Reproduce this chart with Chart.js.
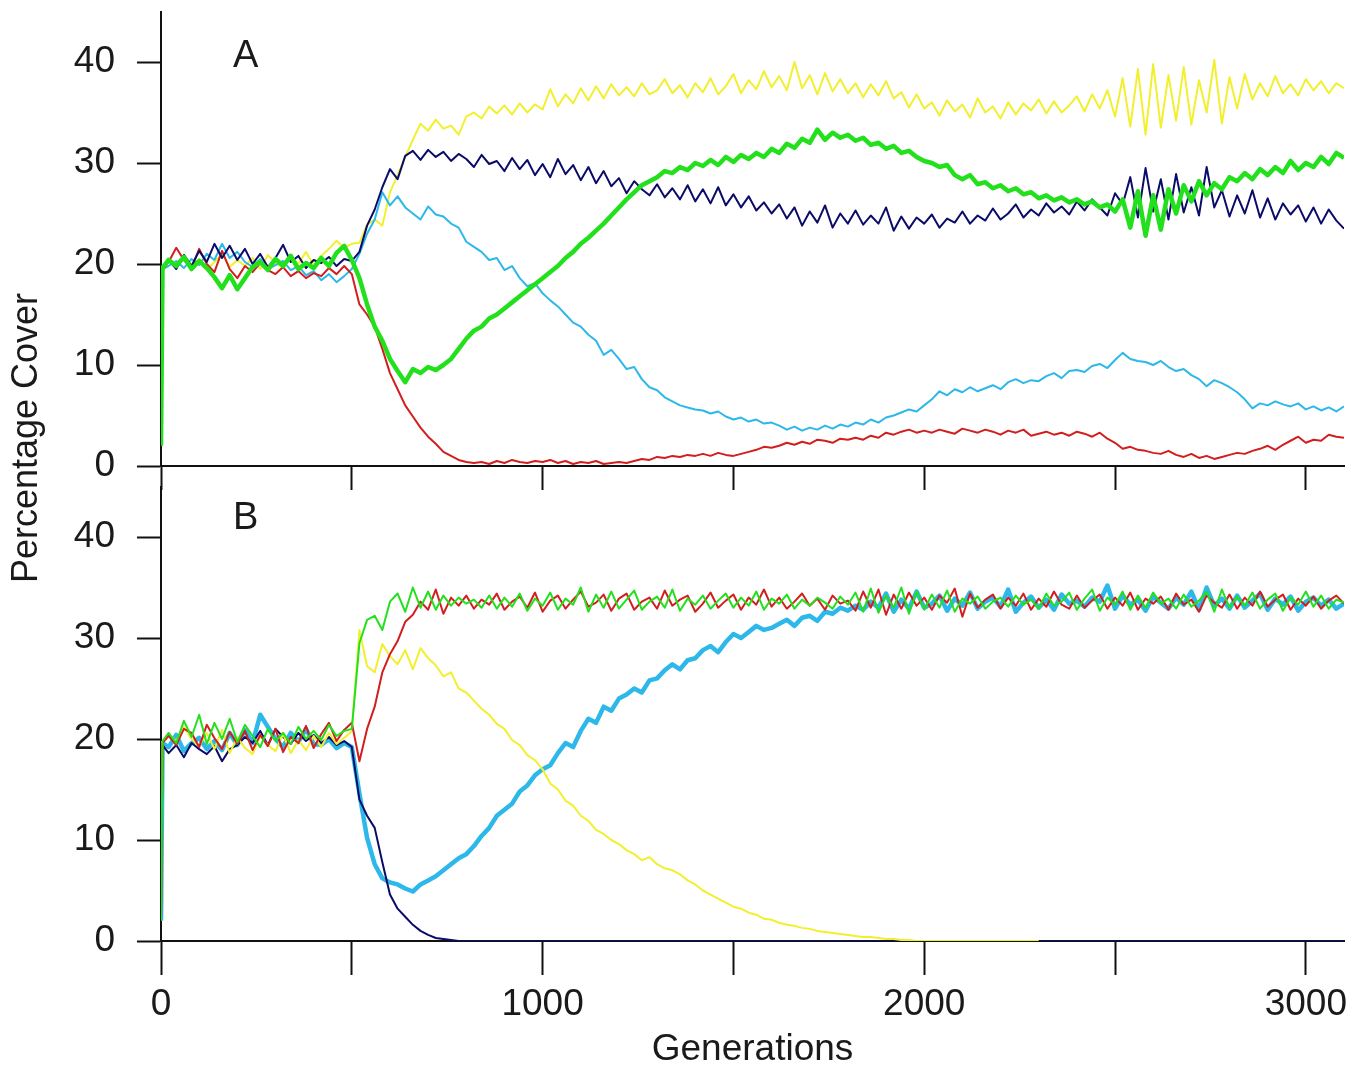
<!DOCTYPE html>
<html>
<head>
<meta charset="utf-8">
<title>Percentage Cover</title>
<script src="https://cdn.jsdelivr.net/npm/chart.js@4.4.1/dist/chart.umd.min.js"></script>
<style>
  html, body { margin: 0; padding: 0; background: #fff; }
  #wrap { position: relative; width: 1360px; height: 1068px; overflow: hidden; background: #fff;
          font-family: "Liberation Sans", Arial, sans-serif; color: #1a1a1a; }
  canvas { position: absolute; left: 0; }
  #chartA { top: 0; }
  #chartB { top: 470px; }
  .panel { position: absolute; left: 233px; font-size: 38px; line-height: 1; }
  #ytitle { position: absolute; left: -175px; top: 420px; width: 400px; height: 36px; line-height: 36px;
            font-size: 36px; text-align: center; transform: rotate(-90deg); white-space: nowrap; }
</style>
</head>
<body>
<div id="wrap">
  <canvas id="chartA" width="1360" height="500"></canvas>
  <canvas id="chartB" width="1360" height="598"></canvas>
  <div class="panel" style="top:35px">A</div>
  <div class="panel" style="top:497px">B</div>
  <div id="ytitle">Percentage Cover</div>
</div>
<script>
// x positions: a start point, then one sample every 20 generations
const generations = [0, 4];
for (let g = 20; g <= 3100; g += 20) generations.push(g);

const xTicks = [0, 500, 1000, 1500, 2000, 2500, 3000];
const xTickLabels = ["0", "", "1000", "", "2000", "", "3000"];
const yTicks = [0, 10, 20, 30, 40];

// ---- panel A ----
const yellowA = [2, 19.8,
  20.3, 19.6, 20.8, 19.9, 20.5, 19.4, 20.2, 21.0, 19.7, 20.4,
  19.8, 20.6, 19.5, 20.9, 20.1, 19.6, 20.7, 20.0, 21.2, 19.9,
  20.8, 21.5, 22.3, 21.6, 22.0, 22.1, 23.9, 24.4, 23.8, 27.1,
  28.8, 30.6, 32.3, 33.9, 33.2, 34.3, 33.4, 33.7, 32.8, 34.6,
  35.0, 34.4, 35.6, 34.9, 35.7, 34.8, 35.9, 35.0, 35.8, 35.3,
  37.3, 35.6, 36.8, 35.9, 37.4, 36.2, 37.6, 36.4, 37.8, 36.7,
  37.5, 36.6, 37.9, 36.8, 37.2, 38.3, 36.9, 37.7, 36.5, 37.9,
  37.0, 38.4, 36.8, 37.6, 38.8, 36.9, 38.2, 37.3, 39.1, 37.5,
  38.6, 37.2, 40.0, 37.4, 38.7, 36.8, 38.9, 37.1, 38.3, 36.9,
  37.9, 36.5, 37.8, 36.7, 38.1, 36.4, 37.0, 35.5, 36.8, 35.4,
  36.0, 34.7, 36.2, 35.1, 35.8, 34.5, 36.4, 35.0, 35.6, 34.4,
  36.0, 34.8, 35.9, 35.2, 36.3, 34.9, 36.1, 35.0, 35.7, 36.6,
  35.1, 36.8, 35.4, 37.2, 34.6, 38.4, 33.6, 39.3, 32.8, 39.8,
  33.5, 38.7, 34.2, 39.5, 33.8, 38.2, 35.0, 40.2, 33.9, 38.5,
  35.4, 38.8, 36.3, 37.9, 36.6, 38.6, 36.9, 37.8, 36.7, 38.3,
  37.2, 38.1, 36.9, 37.9, 37.4];

const navyA = [2, 19.6,
  20.4, 19.5, 20.9, 19.8, 21.3, 20.2, 22.0, 20.6, 21.8, 20.4,
  21.5, 20.0, 21.0, 19.7, 20.6, 21.9, 20.2, 20.8, 19.6, 20.4,
  20.1, 20.7, 19.8, 20.5, 20.3, 21.2, 23.8, 25.4, 27.6, 29.4,
  28.4, 30.7, 31.2, 30.3, 31.3, 30.6, 31.1, 30.2, 30.9, 30.4,
  29.6, 30.8, 29.9, 30.2, 29.2, 30.5, 29.4, 30.3, 28.8, 29.9,
  28.6, 30.4, 28.9, 29.8, 28.3, 29.6, 28.0, 29.2, 27.7, 28.5,
  27.0, 28.2, 27.4, 26.8, 27.9, 26.6, 27.5, 26.4, 27.8, 26.2,
  27.4, 26.0, 27.6, 25.8, 26.9, 25.6, 26.7, 25.3, 26.1, 25.0,
  25.9, 24.5, 25.6, 23.8, 25.2, 24.1, 25.8, 23.6, 25.0, 24.0,
  25.3, 23.9, 24.8, 24.0, 25.6, 23.3, 24.7, 23.5, 24.6, 24.0,
  24.9, 23.6, 24.5, 24.1, 25.2, 24.0, 24.8, 24.3, 25.5, 24.4,
  25.0, 25.9, 24.6, 25.4, 24.8, 26.0, 25.1, 25.7, 24.9, 26.2,
  25.3, 26.4, 25.6, 24.8, 27.0, 25.9, 28.6, 24.6, 29.5, 25.2,
  28.4, 24.4, 28.9, 25.1, 27.6, 24.8, 29.6, 25.6, 27.3, 24.7,
  26.8, 25.0, 27.3, 24.6, 26.5, 24.4, 26.0, 24.9, 25.8, 24.2,
  25.6, 24.0, 25.4, 24.3, 23.5];

const cyanA = [2, 19.5,
  19.8, 20.3, 19.6, 20.5, 19.9, 21.0, 20.4, 22.0, 20.6, 21.2,
  20.2, 19.7, 20.5, 19.5, 19.9, 20.3, 19.4, 19.8, 18.9, 19.3,
  18.4, 19.0, 18.2, 18.8, 19.5, 21.0, 23.0, 24.4, 27.1, 25.8,
  26.7, 25.6, 25.0, 24.4, 25.7, 24.9, 24.7, 24.0, 23.6, 22.2,
  21.7, 21.2, 20.4, 20.6, 19.4, 19.8, 18.6, 17.8, 18.1, 17.1,
  16.4, 15.8, 15.0, 14.2, 13.8, 13.0, 12.4, 11.0, 11.5, 10.6,
  9.6, 9.8, 8.6, 7.8, 7.5, 6.8, 6.4, 6.0, 5.8, 5.6,
  5.5, 5.2, 5.4, 4.9, 4.6, 4.8, 4.4, 4.6, 4.2, 4.3,
  4.0, 3.6, 3.9, 3.5, 3.8, 3.6, 4.0, 3.7, 4.1, 3.9,
  4.3, 4.1, 4.6, 4.3, 4.8, 5.0, 5.3, 5.6, 5.4, 6.0,
  6.6, 7.4, 7.0, 7.6, 7.3, 7.8, 7.4, 7.7, 8.0, 7.6,
  8.3, 8.6, 8.2, 8.5, 8.4, 8.9, 9.2, 8.7, 9.4, 9.5,
  9.3, 9.9, 10.1, 9.7, 10.5, 11.2, 10.6, 10.4, 10.3, 10.0,
  10.4, 9.8, 9.4, 9.6, 9.0, 8.6, 7.9, 8.5, 8.2, 7.8,
  7.3, 6.6, 5.7, 6.2, 6.0, 6.4, 6.1, 5.9, 6.2, 5.6,
  5.9, 5.5, 5.8, 5.4, 5.9];

const redA = [2, 19.4,
  20.2, 21.6, 20.4, 19.6, 21.5, 20.0, 19.2, 21.3, 19.5, 18.6,
  19.8, 19.2, 20.1, 19.4, 19.0, 19.7, 18.8, 19.3, 18.6, 19.1,
  18.8, 19.6, 19.0, 19.8, 19.0, 16.0, 15.0, 13.8, 11.6, 9.2,
  7.6, 6.0, 4.9, 3.8, 2.9, 2.2, 1.4, 1.0, 0.6, 0.4,
  0.3, 0.4, 0.2, 0.5, 0.3, 0.6, 0.4, 0.3, 0.5, 0.4,
  0.6, 0.3, 0.5, 0.2, 0.4, 0.3, 0.5, 0.2, 0.3, 0.4,
  0.3, 0.5, 0.7, 0.6, 0.9, 0.8, 1.0, 0.9, 1.1, 1.0,
  1.2, 1.0, 1.3, 1.1, 1.0, 1.2, 1.4, 1.6, 1.9, 1.8,
  2.0, 2.3, 2.1, 2.4, 2.2, 2.6, 2.5, 2.3, 2.7, 2.6,
  2.8, 2.6, 3.0, 2.8, 3.3, 3.1, 3.4, 3.6, 3.3, 3.5,
  3.3, 3.6, 3.4, 3.2, 3.7, 3.5, 3.3, 3.6, 3.4, 3.1,
  3.5, 3.3, 3.6, 3.0, 3.2, 3.4, 3.1, 3.3, 3.0, 3.4,
  3.2, 2.9, 3.3, 2.7, 2.3, 1.7, 1.9, 1.6, 1.5, 1.3,
  1.2, 1.5, 1.1, 0.9, 1.2, 0.8, 1.0, 0.7, 0.9, 1.1,
  1.3, 1.2, 1.5, 1.7, 2.0, 1.6, 2.1, 2.5, 2.9, 2.3,
  2.6, 2.5, 3.1, 2.9, 2.8];

const greenA = [2, 19.6,
  20.4, 19.8, 20.7, 19.5, 20.3, 19.6, 18.7, 17.6, 18.9, 17.5,
  18.6, 19.7, 20.2, 19.4, 20.5, 19.8, 20.8, 19.5, 20.1, 19.6,
  20.6, 19.8, 21.1, 21.8, 20.4, 18.6, 16.0, 13.8, 12.4, 10.6,
  9.4, 8.3, 9.6, 9.2, 9.8, 9.5, 10.0, 10.6, 11.6, 12.6,
  13.4, 13.8, 14.6, 15.0, 15.6, 16.2, 16.8, 17.4, 18.0, 18.6,
  19.2, 19.8, 20.6, 21.2, 22.0, 22.6, 23.3, 24.0, 24.8, 25.6,
  26.4, 27.1, 27.8, 28.2, 28.6, 29.2, 29.0, 29.6, 29.3, 30.0,
  29.7, 30.3, 29.8, 30.6, 30.1, 30.8, 30.4, 31.0, 30.6, 31.4,
  31.0, 31.9, 31.5, 32.4, 32.0, 33.3, 32.3, 33.0, 32.5, 32.8,
  32.2, 32.5, 31.8, 32.0, 31.4, 31.7, 31.0, 31.2, 30.6, 30.2,
  30.0, 29.6, 29.8, 28.8, 28.4, 28.8, 27.9, 28.1, 27.5, 27.8,
  27.2, 27.5, 26.9, 27.1, 26.5, 26.8, 26.3, 26.6, 26.1, 26.4,
  25.9, 26.2, 25.6, 25.9, 25.2, 26.4, 23.6, 27.2, 22.8, 26.8,
  23.4, 27.4, 25.0, 27.8, 26.2, 28.2, 26.8, 28.0, 27.4, 28.6,
  28.2, 29.0, 28.4, 29.4, 28.8, 29.6, 29.0, 30.2, 29.3, 30.0,
  29.6, 30.6, 29.9, 31.0, 30.5];

// ---- panel B ----
const greenB = [2, 19.8,
  20.6, 19.6, 21.8, 20.2, 22.4, 19.5, 21.6, 20.0, 22.0, 19.7,
  21.4, 20.3, 19.2, 21.0, 19.8, 20.6, 19.5, 21.2, 20.0, 20.8,
  19.9, 21.4, 20.3, 20.8, 21.0, 29.5, 31.8, 32.2, 30.8, 33.6,
  34.4, 32.6, 35.0, 33.0, 34.6, 32.8, 34.2, 33.2, 34.0, 33.4,
  33.8, 33.0, 34.2, 32.9, 34.0, 33.1, 34.4, 32.7, 33.9, 33.2,
  34.5, 32.8, 33.9, 33.3, 35.0, 32.6, 34.3, 33.0, 34.6, 32.9,
  33.8, 34.7, 32.8, 33.6, 34.1, 33.0, 34.8, 32.7, 33.9, 33.3,
  34.2, 32.9, 33.7, 34.4, 33.0, 34.0, 33.2, 34.6, 32.8, 33.9,
  33.4, 34.3, 32.9, 33.8, 33.2, 34.0, 33.5, 32.9, 34.1, 33.3,
  34.5, 32.6, 34.9, 32.5, 34.2, 33.0, 35.0, 32.4, 34.6, 32.8,
  34.3, 33.0, 34.7, 32.6, 33.9, 33.4, 34.1, 32.9, 33.6, 34.0,
  33.1, 34.2, 33.3, 33.8, 32.9, 34.4, 33.2, 33.6, 34.5, 32.8,
  33.9, 34.8, 32.7, 34.0, 33.3, 34.6, 32.8, 34.2, 33.0, 34.5,
  33.4, 33.9, 32.9, 34.3, 33.1, 33.7, 34.6, 32.6, 34.8, 33.0,
  34.1, 33.2, 34.5, 32.9, 33.8, 34.4, 32.7, 34.0, 33.3, 34.6,
  33.1, 34.2, 32.9, 33.8, 33.5];

const redB = [2, 19.6,
  20.3, 19.4, 21.0, 20.6, 19.2, 21.4, 20.1, 19.0, 20.7, 19.5,
  20.8, 18.9, 20.4, 19.3, 21.0, 18.7, 20.2, 19.6, 21.3, 19.1,
  20.5, 21.6, 19.8, 20.9, 21.6, 17.8, 21.0, 23.2, 26.6, 28.4,
  29.7, 31.6, 32.3, 33.6, 32.8, 34.8, 32.4, 34.0, 33.2, 34.2,
  32.9, 33.8, 33.3, 34.4, 32.8, 33.6, 34.1, 33.0, 34.5, 32.6,
  33.7, 34.2, 32.9, 33.8, 34.6, 33.1, 33.5, 34.3, 32.7, 33.9,
  34.4, 32.8, 33.6, 34.0, 32.9, 34.7, 33.2, 33.8, 34.2, 32.6,
  33.4, 34.5, 33.0, 33.7, 34.3, 32.8, 34.0, 33.3, 34.8, 33.1,
  34.0, 32.9, 33.6, 34.4, 33.2, 33.9, 32.8, 34.2, 33.4, 33.7,
  32.7, 34.6, 33.0, 34.8, 32.3, 34.3, 32.9, 34.5, 33.2, 34.0,
  32.8, 34.2, 33.5, 34.9, 32.1, 34.4, 33.0, 33.8, 34.3, 32.9,
  34.0, 33.2, 34.4, 32.8, 33.9, 33.1, 34.6, 33.3, 32.9, 34.2,
  33.0, 33.7, 34.3, 32.9, 34.0, 33.2, 34.5, 32.8, 33.9, 33.4,
  34.1, 32.8, 34.4, 33.3, 33.8, 32.6, 34.2, 33.5, 33.0, 34.3,
  32.9, 34.0, 33.2, 34.6, 33.1, 33.8, 34.3, 32.8, 33.9, 33.2,
  34.1, 32.9, 33.7, 34.2, 33.4];

const yellowB = [2, 19.7,
  20.4, 19.8, 21.2, 20.0, 19.3, 20.6, 19.0, 20.9, 18.6, 20.2,
  19.1, 18.5, 20.3, 19.4, 18.8, 20.5, 18.6, 19.9, 18.9, 20.3,
  19.2, 20.6, 19.5, 20.1, 20.8, 30.8, 27.2, 26.6, 29.4, 28.2,
  27.4, 28.8, 26.9, 29.0, 28.0, 27.3, 26.2, 26.6, 25.0, 24.6,
  23.8, 23.0, 22.4, 21.5, 21.0, 19.9, 19.4, 18.4, 17.9, 17.0,
  15.6, 15.0, 13.9, 13.4, 12.4, 11.9, 11.0, 10.6, 10.0, 9.6,
  9.0, 8.6, 8.0, 8.3, 7.6, 7.2, 7.0, 6.6, 6.0, 5.6,
  5.0, 4.6, 4.2, 3.8, 3.4, 3.2, 2.8, 2.6, 2.2, 2.1,
  1.8, 1.6, 1.5, 1.3, 1.2, 1.0, 0.9, 0.8, 0.7, 0.6,
  0.5, 0.4, 0.4, 0.3, 0.2, 0.2, 0.1, 0.1, 0, 0,
  0, 0, 0, 0, 0, 0, 0, 0, 0, 0,
  0, 0, 0, 0, 0, null, null, null, null, null,
  null, null, null, null, null, null, null, null, null, null,
  null, null, null, null, null, null, null, null, null, null,
  null, null, null, null, null, null, null, null, null, null,
  null, null, null, null, null];

const cyanB = [2, 19.6,
  19.2, 20.4, 18.8, 19.6, 20.1, 19.0, 19.8, 18.9, 20.6, 19.4,
  20.9, 19.6, 22.4, 21.2, 20.0, 19.2, 20.6, 19.7, 21.0, 19.5,
  19.4, 20.0, 19.1, 19.6, 19.2, 14.6, 10.2, 7.6, 6.2, 5.8,
  5.6, 5.2, 4.9, 5.6, 6.0, 6.4, 7.0, 7.6, 8.2, 8.6,
  9.4, 10.4, 11.2, 12.4, 13.0, 13.6, 14.8, 15.4, 16.4, 17.0,
  17.4, 18.6, 19.6, 19.2, 20.8, 22.0, 21.6, 23.2, 22.8, 24.0,
  24.4, 25.0, 24.6, 25.8, 26.0, 26.8, 27.4, 26.9, 27.8, 28.0,
  28.8, 29.2, 28.6, 29.6, 30.4, 30.0, 30.6, 31.2, 30.8, 31.0,
  31.4, 31.8, 31.2, 32.0, 32.2, 31.7, 32.6, 32.4, 33.0, 32.7,
  33.2, 32.8, 33.6, 33.0, 34.4, 32.6, 33.8, 32.9, 34.6, 33.0,
  33.4, 34.2, 32.7, 33.9, 33.2, 34.5, 32.9, 33.6, 34.0, 33.1,
  34.8, 32.6, 33.5, 34.1, 33.0, 33.8, 32.8, 34.3, 33.4, 33.7,
  33.1, 34.0, 33.6, 35.2, 32.9, 34.2, 33.3, 33.8, 32.7, 34.1,
  33.5, 32.9, 34.0, 33.3, 34.6, 32.8, 35.0, 33.2, 33.9, 32.9,
  34.2, 33.0, 33.7, 34.4, 32.8, 33.9, 33.3, 34.1, 32.7, 33.6,
  34.0, 33.2, 33.8, 32.9, 33.4];

const navyB = [2, 19.4,
  18.6, 19.4, 18.2, 19.6, 19.0, 18.5, 19.3, 17.8, 19.0, 19.4,
  20.2, 19.6, 20.8, 19.4, 21.0, 20.2, 19.5, 20.6, 19.8, 20.4,
  19.6, 20.2, 19.4, 19.8, 19.2, 14.0, 12.4, 11.2, 7.8, 4.6,
  3.2, 2.4, 1.6, 1.0, 0.6, 0.3, 0.2, 0.1, 0, 0,
  0, 0, 0, 0, 0, 0, 0, 0, 0, 0,
  0, 0, 0, 0, 0, 0, 0, 0, 0, 0,
  0, 0, 0, 0, 0, 0, 0, 0, 0, 0,
  0, 0, 0, 0, 0, 0, 0, 0, 0, 0,
  0, 0, 0, 0, 0, 0, 0, 0, 0, 0,
  0, 0, 0, 0, 0, 0, 0, 0, 0, 0,
  0, 0, 0, 0, 0, 0, 0, 0, 0, 0,
  0, 0, 0, 0, 0, 0, 0, 0, 0, 0,
  0, 0, 0, 0, 0, 0, 0, 0, 0, 0,
  0, 0, 0, 0, 0, 0, 0, 0, 0, 0,
  0, 0, 0, 0, 0, 0, 0, 0, 0, 0,
  0, 0, 0, 0, 0];

const yellow = "#f2f02e";
const navy = "#0b0b68";
const cyan = "#2cb8e8";
const red = "#d21e1e";
const green = "#22e01c";

const textColor = "#1a1a1a";
const axisColor = "#111";
const tickFont = { family: "'Liberation Sans', Arial, sans-serif", size: 37 };

function line(label, values, color, width) {
  return {
    label: label,
    data: values.map((v, i) => ({ x: generations[i], y: v })),
    borderColor: color,
    borderWidth: width,
    borderJoinStyle: "round",
    pointRadius: 0,
    tension: 0,
    fill: false,
    spanGaps: false,
  };
}

// keep the plot area where the reference has it: no extra room for edge labels
function noEdgePadding(s) {
  s.paddingTop = 0;
  s.paddingBottom = 0;
  s.paddingLeft = 0;
  s.paddingRight = 0;
}

function makeOptions(top, xHeight, xTickLength, showX) {
  return {
    responsive: false,
    animation: false,
    devicePixelRatio: 1,
    layout: { padding: { top: top, right: 16, left: 0, bottom: 0 } },
    plugins: { legend: { display: false }, tooltip: { enabled: false } },
    scales: {
      x: {
        type: "linear",
        min: 0,
        max: 3100,
        afterBuildTicks: (s) => { s.ticks = xTicks.map((v) => ({ value: v })); },
        afterFit: (s) => { s.height = xHeight; noEdgePadding(s); },
        grid: { drawOnChartArea: false, tickLength: xTickLength, tickWidth: 2, tickColor: axisColor },
        border: { color: axisColor, width: 2 },
        ticks: {
          display: showX,
          padding: 8,
          color: textColor,
          font: tickFont,
          maxRotation: 0,
          autoSkip: false,
          callback: (v) => xTickLabels[xTicks.indexOf(v)] || "",
        },
        title: {
          display: showX,
          text: "Generations",
          color: textColor,
          font: { family: tickFont.family, size: 37, lineHeight: 1 },
          padding: { top: 0, bottom: 0 },
        },
      },
      y: {
        min: 0,
        max: 45,
        afterBuildTicks: (s) => { s.ticks = yTicks.map((v) => ({ value: v })); },
        afterFit: (s) => { s.width = 161; noEdgePadding(s); },
        grid: { drawOnChartArea: false, tickLength: 24, tickWidth: 2, tickColor: axisColor },
        border: { color: axisColor, width: 2 },
        ticks: { padding: 22, color: textColor, font: tickFont },
      },
    },
  };
}

// first dataset is drawn on top
new Chart(document.getElementById("chartA"), {
  type: "line",
  data: {
    datasets: [
      line("green", greenA, green, 4.5),
      line("navy", navyA, navy, 2),
      line("red", redA, red, 2),
      line("cyan", cyanA, cyan, 2),
      line("yellow", yellowA, yellow, 2),
    ],
  },
  options: makeOptions(11.5, 34, 24, false),
});

new Chart(document.getElementById("chartB"), {
  type: "line",
  data: {
    datasets: [
      line("green", greenB, green, 2),
      line("red", redB, red, 2),
      line("yellow", yellowB, yellow, 2),
      line("navy", navyB, navy, 2),
      line("cyan", cyanB, cyan, 4.5),
    ],
  },
  options: makeOptions(16.5, 127, 34, true),
});
</script>
</body>
</html>
